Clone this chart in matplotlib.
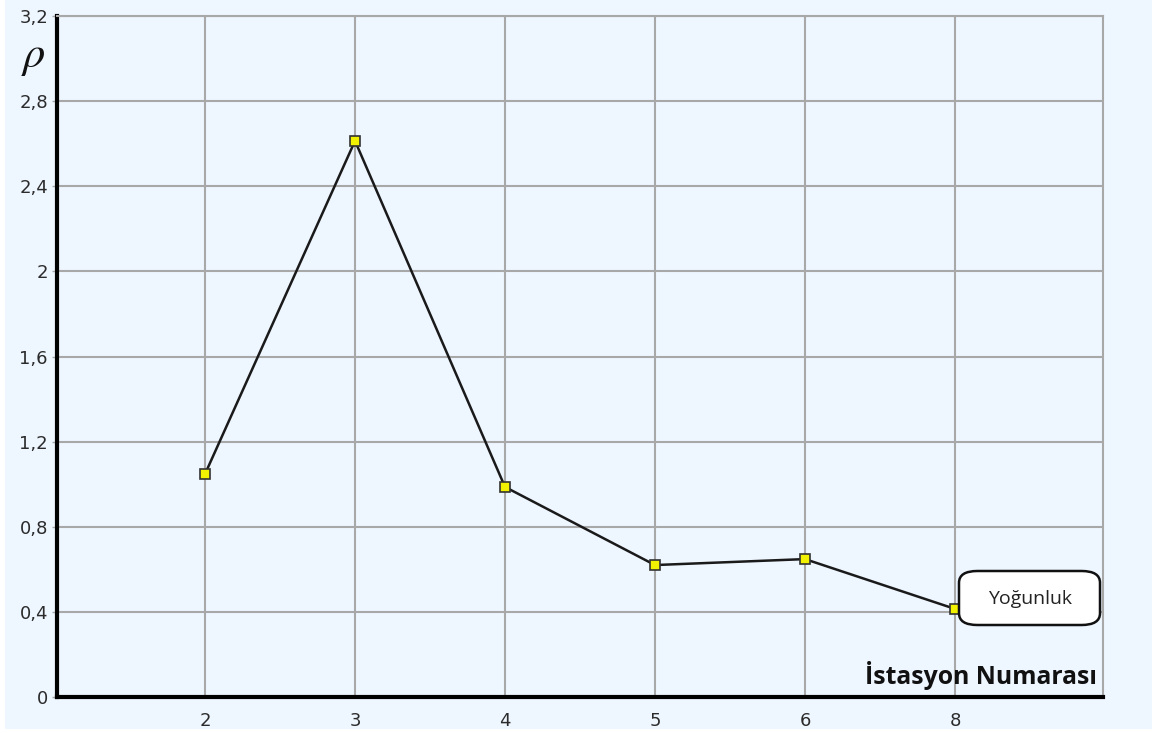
import matplotlib.pyplot as plt
from matplotlib.patches import FancyBboxPatch, Rectangle

stations = ["2", "3", "4", "5", "6", "8"]
density = [1.048, 2.613, 0.987, 0.62, 0.648, 0.414]
yticks = [0, 0.4, 0.8, 1.2, 1.6, 2, 2.4, 2.8, 3.2]
ytick_labels = ["0", "0,4", "0,8", "1,2", "1,6", "2", "2,4", "2,8", "3,2"]

bg = "#eef6ff"
fig = plt.figure(figsize=(11.52, 7.33), dpi=100, facecolor="white")
fig.patches.append(Rectangle((5 / 1152, 4 / 733), 1, 1, transform=fig.transFigure,
                             facecolor=bg, edgecolor="none", zorder=-10))

ax = fig.add_axes([57 / 1152, 1 - 697 / 733, 1046 / 1152, 681 / 733])
ax.set_facecolor(bg)

x = list(range(len(stations)))
ax.plot(x, density, color="#1a1a1a", lw=1.8, zorder=3)
ax.plot(x, density, ls="none", marker="s", ms=7.5, mfc="#f2f200", mec="#333333",
        mew=1.2, zorder=4)

ax.set_xlim(-0.987, 5.987)
ax.set_ylim(0, 3.2)
ax.set_xticks(x)
ax.set_xticklabels(stations)
ax.set_yticks(yticks)
ax.set_yticklabels(ytick_labels)

ax.grid(True, color="#a8a8a8", lw=1.5)
ax.set_axisbelow(True)

for s in ["top", "right"]:
    ax.spines[s].set_color("#a8a8a8")
    ax.spines[s].set_linewidth(1.5)
for s in ["left", "bottom"]:
    ax.spines[s].set_color("black")
    ax.spines[s].set_linewidth(3)

ax.tick_params(axis="x", length=0, pad=11, labelsize=13, labelcolor="#2b2b2b")
ax.tick_params(axis="y", length=3.5, width=1, color="#a8a8a8", pad=3,
               labelsize=13, labelcolor="#2b2b2b")
for lab in ax.get_xticklabels() + ax.get_yticklabels():
    lab.set_family("DejaVu Sans")

fig.text(33 / 1152, 1 - 56 / 733, r"$\rho$", fontsize=32, math_fontfamily="stix",
         ha="center", va="center", color="#111111")

fig.text(1097 / 1152, 1 - 676 / 733, "İstasyon Numarası", fontsize=17.8,
         fontweight="bold", family="Open Sans", ha="right", va="center",
         color="#111111")

box = FancyBboxPatch((959 / 1152, 1 - 625 / 733), 141 / 1152, 54 / 733,
                     boxstyle="round,pad=0,rounding_size=0.016",
                     transform=fig.transFigure, facecolor="white",
                     edgecolor="#111111", lw=1.8, zorder=5)
fig.patches.append(box)
fig.text(1030 / 1152, 1 - 599 / 733, "Yoğunluk", fontsize=14, family="Open Sans",
         ha="center", va="center", color="#222222", zorder=6)

fig.savefig("out.png", dpi=100, facecolor="white")
